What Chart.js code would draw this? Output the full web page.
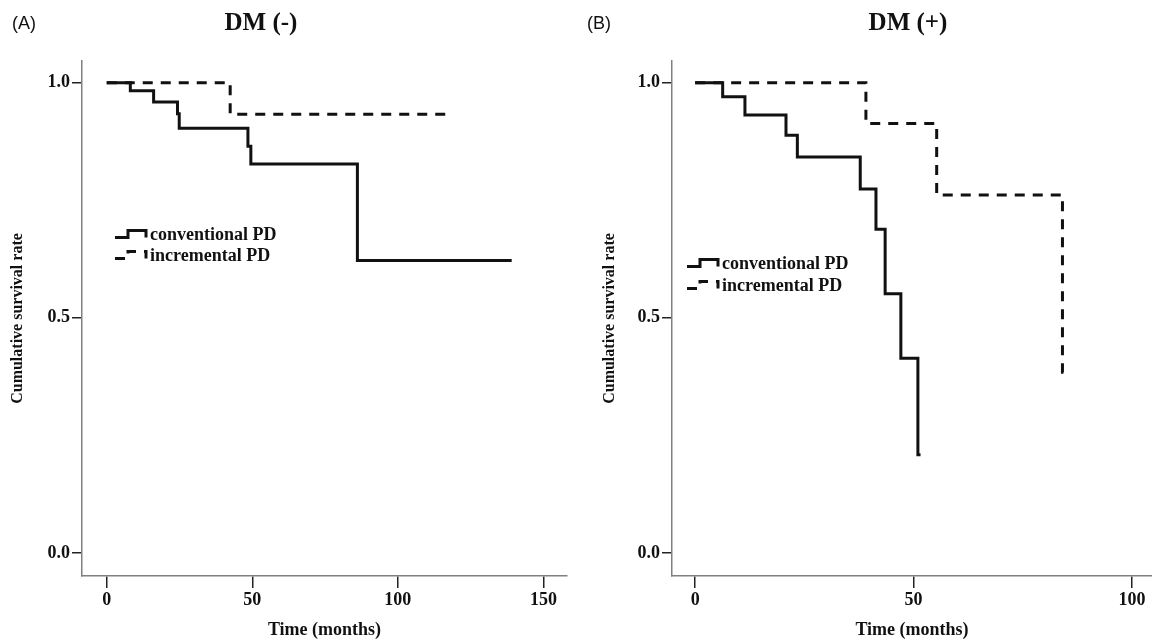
<!DOCTYPE html>
<html lang="en">
<head>
<meta charset="UTF-8">
<title>Cumulative survival: DM (-) / DM (+)</title>
<script src="https://cdn.jsdelivr.net/npm/chart.js"></script>
<style>
  body { margin: 0; background: #fff; }
  .panel { position: absolute; top: 0; width: 576px; height: 641px; }
</style>
</head>
<body>
<div class="panel" style="left:0"><canvas id="chartA" width="576" height="641"></canvas></div>
<div class="panel" style="left:576px"><canvas id="chartB" width="576" height="641"></canvas></div>

<script>
// Kaplan-Meier steps (time in months, survival after each drop)
const seriesLabels = ['conventional PD', 'incremental PD'];

const timeA_conv = [0, 8.1, 16.1, 24.3, 24.9, 48.5, 49.5, 86.1, 139.1];
const survA_conv = [1, 0.983, 0.959, 0.934, 0.903, 0.865, 0.827, 0.622, 0.622];
const timeA_inc = [0, 42.4, 118.5];
const survA_inc = [1, 0.933, 0.933];

const timeB_conv = [0, 6.3, 11.4, 20.8, 23.4, 37.8, 41.4, 43.5, 47.1, 51.0, 51.6];
const survB_conv = [1, 0.970, 0.931, 0.888, 0.842, 0.774, 0.688, 0.551, 0.414, 0.209, 0.209];
const timeB_inc = [0, 39.1, 55.3, 84.1, 84.9];
const survB_inc = [1, 0.913, 0.761, 0.384, 0.384];

const xTicksA = [0, 50, 100, 150];
const xTicksB = [0, 50, 100];
const yTicks = [0, 0.5, 1.0];

const toPoints = (t, s) => t.map((x, i) => ({ x: x, y: s[i] }));

const serif = '"Liberation Serif", "DejaVu Serif", serif';

// panel letter + bold title above the plot
const panelHeading = {
    id: 'panelHeading',
    afterDraw(chart, args, opts) {
        const ctx = chart.ctx;
        ctx.save();
        ctx.fillStyle = '#111';
        ctx.textBaseline = 'middle';
        ctx.textAlign = 'left';
        ctx.font = '18px "Liberation Sans", Arial, sans-serif';
        ctx.fillText(opts.tag, opts.tagX, opts.y);
        ctx.textAlign = 'center';
        ctx.font = 'bold 25px ' + serif;
        ctx.fillText(opts.title, opts.titleX, opts.y);
        ctx.restore();
    }
};

// SPSS style legend: little step symbol drawn with the dataset's own dash
const stepLegend = {
    id: 'stepLegend',
    afterDraw(chart, args, opts) {
        const ctx = chart.ctx;
        ctx.save();
        ctx.font = 'bold 18px ' + serif;
        ctx.textBaseline = 'middle';
        chart.data.datasets.forEach((ds, i) => {
            const x = opts.x;
            const y = opts.y + i * opts.rowGap;
            ctx.strokeStyle = ds.borderColor;
            ctx.lineWidth = ds.borderWidth;
            ctx.setLineDash(ds.borderDash || []);
            ctx.beginPath();
            ctx.moveTo(x, y + 3);
            ctx.lineTo(x + 13, y + 3);
            ctx.lineTo(x + 13, y - 4);
            ctx.lineTo(x + 31, y - 4);
            ctx.lineTo(x + 31, y + 3);
            ctx.stroke();
            ctx.setLineDash([]);
            ctx.fillStyle = '#111';
            ctx.fillText(ds.label, x + 35, y + 1);
        });
        ctx.restore();
    }
};

function panelConfig(p) {
    return {
        type: 'line',
        data: {
            datasets: [{
                label: seriesLabels[0],
                data: toPoints(p.convTime, p.convSurv),
                borderColor: '#111',
                borderWidth: 3,
                pointRadius: 0,
                stepped: true,
                fill: false,
            }, {
                label: seriesLabels[1],
                data: toPoints(p.incTime, p.incSurv),
                borderColor: '#111',
                borderWidth: 3,
                borderDash: [10, 8],
                pointRadius: 0,
                stepped: true,
                fill: false,
            }],
        },
        options: {
            responsive: false,
            animation: false,
            devicePixelRatio: 1,
            layout: { padding: { top: 61, right: p.padRight, left: 0, bottom: 0 } },
            plugins: {
                legend: { display: false },
                tooltip: { enabled: false },
                panelHeading: p.heading,
                stepLegend: p.legend,
            },
            scales: {
                x: {
                    type: 'linear',
                    min: p.xMin,
                    max: p.xMax,
                    afterBuildTicks: (s) => { s.ticks = p.xTicks.map(v => ({ value: v })); },
                    afterFit: (s) => { s.height = 65; },
                    grid: { drawOnChartArea: false, tickLength: 12, color: '#222', lineWidth: 1.5 },
                    border: { color: '#808080', width: 1.5 },
                    ticks: { padding: 2, color: '#111', font: { family: serif, size: 18, weight: 'bold' } },
                    title: {
                        display: true,
                        text: 'Time (months)',
                        color: '#111',
                        font: { family: serif, size: 18, weight: 'bold' },
                        padding: { top: 0, bottom: 0 },
                    },
                },
                y: {
                    type: 'linear',
                    min: -0.049,
                    max: 1.046,
                    afterBuildTicks: (s) => { s.ticks = yTicks.map(v => ({ value: v })); },
                    afterFit: (s) => { s.width = p.yWidth; },
                    grid: { drawOnChartArea: false, tickLength: 10, color: '#222', lineWidth: 1.5 },
                    border: { color: '#808080', width: 1.5 },
                    ticks: {
                        padding: 2,
                        color: '#111',
                        font: { family: serif, size: 18, weight: 'bold' },
                        callback: (v) => v.toFixed(1),
                    },
                    title: {
                        display: true,
                        text: 'Cumulative survival rate',
                        color: '#111',
                        font: { family: serif, size: 16, weight: 'bold' },
                        padding: { top: p.yTitlePad, bottom: 0 },
                    },
                },
            },
        },
        plugins: [panelHeading, stepLegend],
    };
}

new Chart(document.getElementById('chartA'), panelConfig({
    convTime: timeA_conv, convSurv: survA_conv,
    incTime: timeA_inc, incSurv: survA_inc,
    xTicks: xTicksA, xMin: -8.5, xMax: 158.1,
    padRight: 9, yWidth: 82, yTitlePad: 8,
    heading: { tag: '(A)', tagX: 12, title: 'DM (-)', titleX: 261, y: 24 },
    legend: { x: 115, y: 234.5, rowGap: 21 },
}));

new Chart(document.getElementById('chartB'), panelConfig({
    convTime: timeB_conv, convSurv: survB_conv,
    incTime: timeB_inc, incSurv: survB_inc,
    xTicks: xTicksB, xMin: -5.3, xMax: 104.6,
    padRight: 0, yWidth: 96, yTitlePad: 24,
    heading: { tag: '(B)', tagX: 11, title: 'DM (+)', titleX: 332, y: 24 },
    legend: { x: 111, y: 263.5, rowGap: 22 },
}));
</script>
</body>
</html>
